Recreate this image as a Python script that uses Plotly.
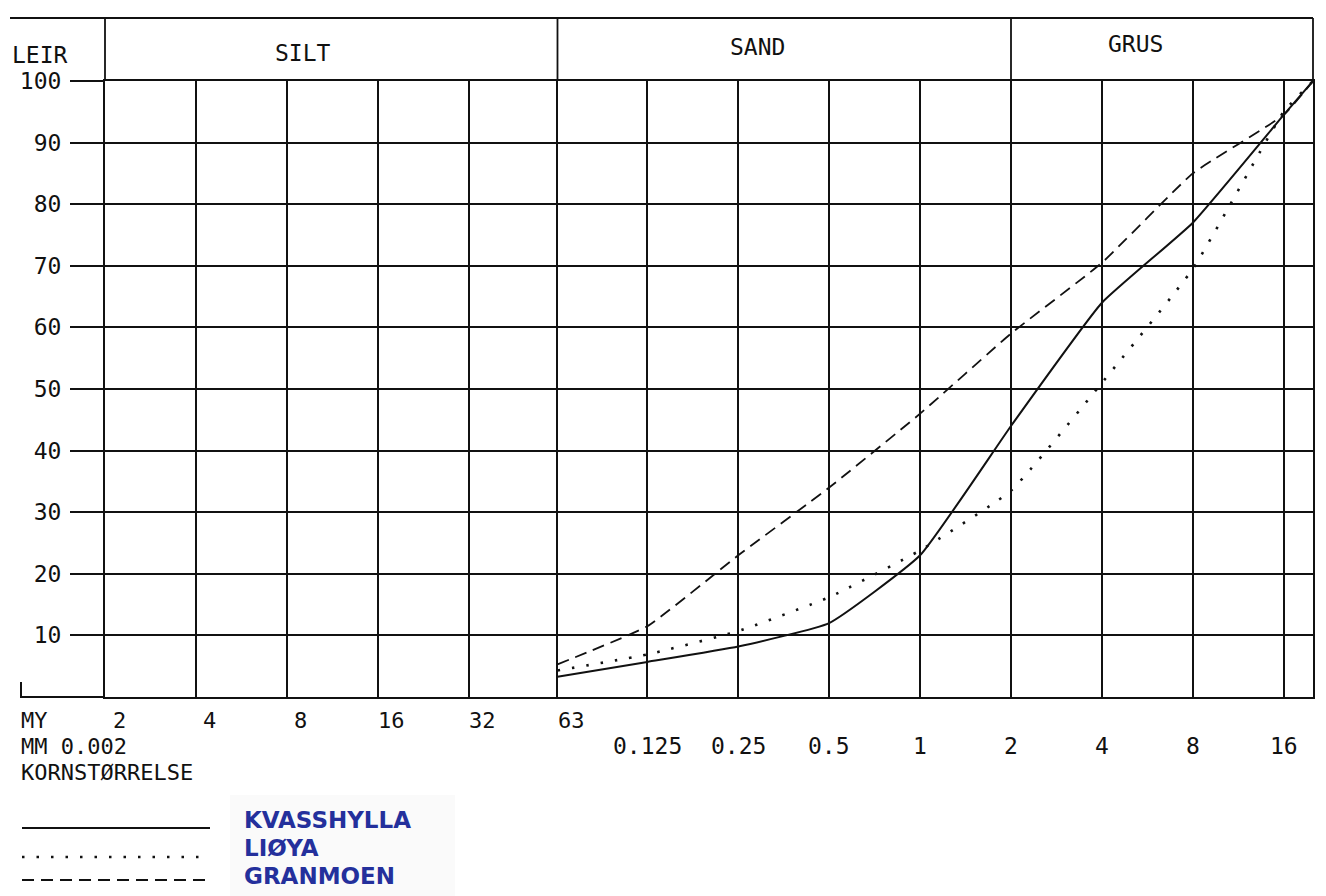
import numpy as np
import plotly.graph_objects as go

# ---------------- data ----------------
size_mm = [0.063, 0.125, 0.25, 0.5, 1, 2, 4, 8, 16, 20]
kvasshylla = [3.3, 5.7, 8.2, 12.0, 23.0, 44.0, 64.0, 77.0, 94.5, 100]
lioya = [4.3, 6.9, 10.7, 16.2, 23.8, 33.5, 51.0, 69.5, 95.0, 100]
granmoen = [5.3, 11.5, 23.0, 34.0, 46.0, 59.0, 70.5, 85.0, 94.5, 100]

series_names = ["KVASSHYLLA", "LIØYA", "GRANMOEN"]

grid_mm = [0.002, 0.004, 0.008, 0.016, 0.032, 0.063, 0.125, 0.25, 0.5, 1, 2, 4, 8, 16]
my_vals = [0.002, 0.004, 0.008, 0.016, 0.032, 0.063]
my_labels = ["2", "4", "8", "16", "32", "63"]
mm_vals = [0.125, 0.25, 0.5, 1, 2, 4, 8, 16]
mm_labels = ["0.125", "0.25", "0.5", "1", "2", "4", "8", "16"]
y_ticks = [10, 20, 30, 40, 50, 60, 70, 80, 90, 100]
fractions = ["LEIR", "SILT", "SAND", "GRUS"]
fraction_bounds_mm = [0.002, 0.063, 2, 20]

x_min, x_max = 0.002, 20

# ---------------- style ----------------
MONO = "DejaVu Sans Mono"
FS = 23
FS_ROW = 22
INK = "#111111"
BLUE = "#24309c"
W, H = 1326, 896
L, R, T, B = 105, 13, 81, 199
pw = W - L - R
ph = H - T - B


def px_x(px):
    return (px - L) / pw


def px_y(py):
    return (H - B - py) / ph


def paper_of(v):
    return np.log10(v / x_min) / np.log10(x_max / x_min)


styles = [
    dict(color=INK, width=2, dash="solid"),
    dict(color=INK, width=2.6, dash="2.5px,12px"),
    dict(color=INK, width=1.8, dash="12px,7px"),
]

fig = go.Figure()
for name, vals, st in zip(series_names, [kvasshylla, lioya, granmoen], styles):
    fig.add_trace(go.Scatter(
        x=size_mm, y=vals, mode="lines", name=name,
        line=dict(color=st["color"], width=st["width"], dash=st["dash"],
                  shape="spline", smoothing=0.4),
        showlegend=False, hoverinfo="x+y+name",
    ))

fig.update_layout(
    width=W, height=H, autosize=False,
    margin=dict(l=L, r=R, t=T, b=B, pad=0),
    paper_bgcolor="white", plot_bgcolor="white",
    font=dict(family=MONO, size=FS, color=INK),
    showlegend=False,
)

fig.update_xaxes(
    type="log", range=[np.log10(x_min), np.log10(x_max)],
    tickvals=grid_mm, showticklabels=False, ticks="",
    showgrid=True, gridcolor=INK, gridwidth=1.6,
    showline=True, linecolor=INK, linewidth=2, mirror=True,
    zeroline=False,
)
fig.update_yaxes(
    range=[0, 100], tickvals=y_ticks, ticktext=[str(v) for v in y_ticks],
    ticks="outside", ticklen=33, tickwidth=1.6, tickcolor=INK,
    ticklabelstandoff=4,
    showgrid=True, gridcolor=INK, gridwidth=1.6,
    showline=True, linecolor=INK, linewidth=2, mirror=True,
    zeroline=False,
)

shapes = []
# header box
top_y = px_y(18)
shapes.append(dict(type="line", xref="paper", yref="paper",
                   x0=px_x(10), x1=1, y0=top_y, y1=top_y,
                   line=dict(color=INK, width=2)))
for b in fraction_bounds_mm:
    xp = paper_of(b)
    shapes.append(dict(type="line", xref="paper", yref="paper",
                       x0=xp, x1=xp, y0=1, y1=top_y,
                       line=dict(color=INK, width=1.8)))
# bottom baseline extended to the left, with small corner
shapes.append(dict(type="line", xref="paper", yref="paper",
                   x0=px_x(20), x1=0, y0=0, y1=0,
                   line=dict(color=INK, width=2)))
shapes.append(dict(type="line", xref="paper", yref="paper",
                   x0=px_x(21), x1=px_x(21), y0=0, y1=px_y(682),
                   line=dict(color=INK, width=2)))
# faint scanned patch behind handwritten legend
shapes.append(dict(type="rect", xref="paper", yref="paper",
                   x0=px_x(230), x1=px_x(455), y0=px_y(795), y1=px_y(896),
                   fillcolor="#fafafa", line=dict(width=0), layer="below"))
# legend lines
for st, py in zip(styles, [828, 857, 880]):
    shapes.append(dict(type="line", xref="paper", yref="paper",
                       x0=px_x(22), x1=px_x(210), y0=px_y(py), y1=px_y(py),
                       line=dict(color=st["color"], width=st["width"], dash=st["dash"])))
fig.update_layout(shapes=shapes)

ann = []
# header labels
for txt, cx, cy in zip(fractions, [40, 303, 757, 1135], [55, 53, 47, 44]):
    ann.append(dict(text=txt, xref="paper", yref="paper", x=px_x(cx), y=px_y(cy),
                    xanchor="center", yanchor="middle", showarrow=False,
                    font=dict(family=MONO, size=FS, color=INK)))
row_font = dict(family=MONO, size=FS_ROW, color=INK)
row_y = [720, 746, 772]
# MY row
ann.append(dict(text="MY", xref="paper", yref="paper", x=px_x(19), y=px_y(row_y[0]),
                xanchor="left", yanchor="middle", showarrow=False, font=row_font))
for v, t in zip(my_vals, my_labels):
    ann.append(dict(text=t, xref="x", yref="paper", x=np.log10(v), y=px_y(row_y[0]),
                    xanchor="center", yanchor="middle", showarrow=False, xshift=14,
                    font=dict(family=MONO, size=FS_ROW, color=INK)))
# MM row
ann.append(dict(text="MM 0.002", xref="paper", yref="paper", x=px_x(19), y=px_y(row_y[1]),
                xanchor="left", yanchor="middle", showarrow=False, font=row_font))
for v, t in zip(mm_vals, mm_labels):
    ann.append(dict(text=t, xref="x", yref="paper", x=np.log10(v), y=px_y(row_y[1]),
                    xanchor="center", yanchor="middle", showarrow=False,
                    font=dict(family=MONO, size=FS, color=INK)))
ann.append(dict(text="KORNSTØRRELSE", xref="paper", yref="paper", x=px_x(19), y=px_y(row_y[2]),
                xanchor="left", yanchor="middle", showarrow=False, font=row_font))
# handwritten legend names
for name, py in zip(series_names, [820, 848, 876]):
    ann.append(dict(text=name, xref="paper", yref="paper", x=px_x(242), y=px_y(py),
                    xanchor="left", yanchor="middle", showarrow=False,
                    font=dict(family="DejaVu Sans", size=23, color=BLUE, weight="bold")))
fig.update_layout(annotations=ann)

fig.write_html("out.html", config={"displayModeBar": False},
               post_script="document.body.style.margin='0';")
